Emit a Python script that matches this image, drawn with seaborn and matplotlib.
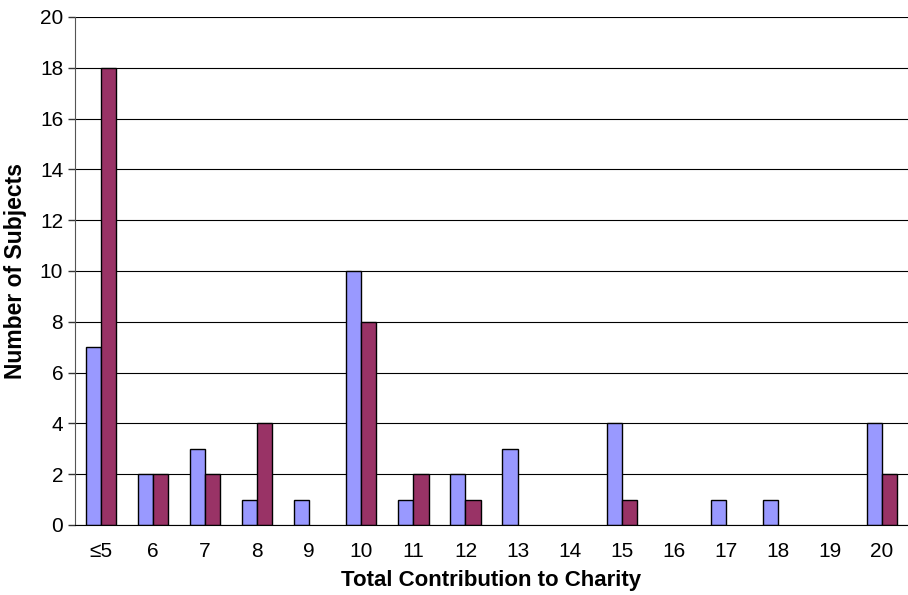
import numpy as np
import pandas as pd
import matplotlib.pyplot as plt
import seaborn as sns
from matplotlib.ticker import FixedLocator

categories = ["≤5", "6", "7", "8", "9", "10", "11", "12", "13", "14",
              "15", "16", "17", "18", "19", "20"]
series_a = [7, 2, 3, 1, 1, 10, 1, 2, 3, 0, 4, 0, 1, 1, 0, 4]
series_b = [18, 2, 2, 4, 0, 8, 2, 1, 0, 0, 1, 0, 0, 0, 0, 2]
series_names = ["Series A", "Series B"]

df = pd.DataFrame({
    "category": categories * 2,
    "count": series_a + series_b,
    "series": [series_names[0]] * len(categories) + [series_names[1]] * len(categories),
})

sns.set_style("white")
plt.rcParams["font.family"] = ["Liberation Sans", "DejaVu Sans"]
plt.rcParams["text.color"] = "black"
plt.rcParams["axes.labelcolor"] = "black"
plt.rcParams["xtick.color"] = "black"
plt.rcParams["ytick.color"] = "black"

fig = plt.figure(figsize=(9.08, 5.95), dpi=100)
ax = fig.add_axes([75 / 908, 70 / 595, 833 / 908, 508 / 595])

sns.barplot(data=df, x="category", y="count", hue="series", order=categories,
            palette=["#9999FF", "#993366"], saturation=1, width=0.58,
            edgecolor="black", linewidth=1.0, legend=False, ax=ax)

# hide empty bars (no outline for zero counts)
for p in ax.patches:
    if p.get_height() == 0:
        p.set_visible(False)

ax.set_ylim(0, 20)
ax.set_xlim(-0.5, len(categories) - 0.5)
ax.set_yticks(range(0, 21, 2))
ax.yaxis.grid(True, color="black", linewidth=0.8)
ax.set_axisbelow(True)

ax.xaxis.set_minor_locator(FixedLocator(np.arange(-0.5, len(categories), 1)))
ax.tick_params(axis="x", which="major", length=0, labelsize=15, pad=12)
ax.tick_params(axis="x", which="minor", length=5, width=1, color="#333333", direction="out")
ax.tick_params(axis="y", which="major", length=5, width=1, color="#333333",
               direction="out", labelsize=15, left=True)

for side in ["top", "right"]:
    ax.spines[side].set_visible(False)
ax.spines["left"].set_color("#555555")
ax.spines["bottom"].set_color("black")

ax.set_xlabel("Total Contribution to Charity", fontsize=16, fontweight="bold", labelpad=7)
ax.set_ylabel("Number of Subjects", fontsize=16.5, fontweight="bold", labelpad=9)

fig.savefig("out.png", dpi=100)
